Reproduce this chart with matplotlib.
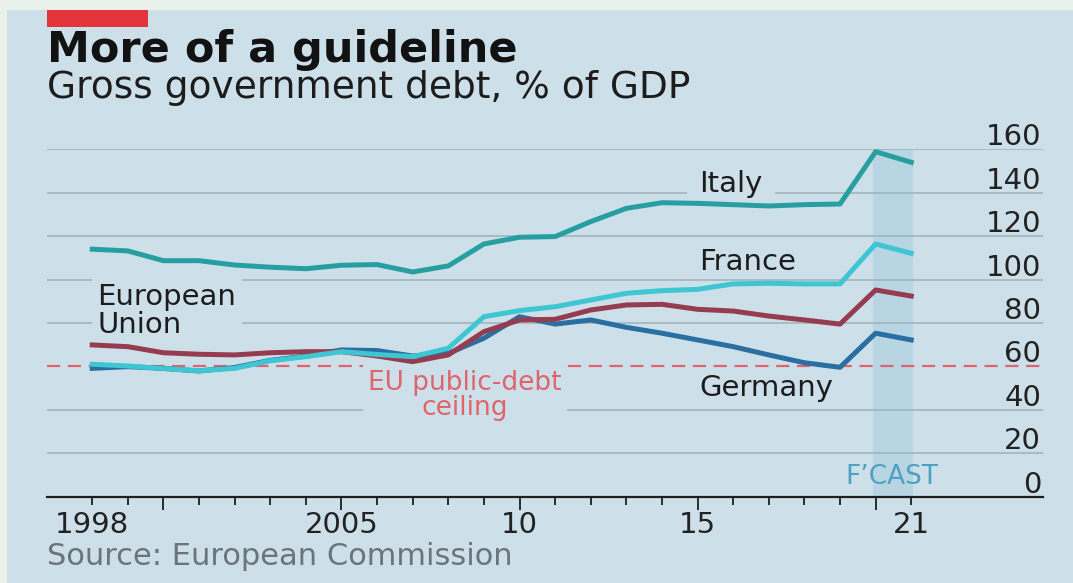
import matplotlib
matplotlib.use("Agg")
import matplotlib.pyplot as plt
from matplotlib.patches import Rectangle
from matplotlib.ticker import FixedLocator
from matplotlib.transforms import offset_copy

plt.rcParams['font.family'] = ['DejaVu Sans']
plt.rcParams['lines.scale_dashes'] = False

# ---------------- data ----------------
years = list(range(1998, 2022))
italy = [114.0, 113.2, 108.7, 108.7, 106.7, 105.7, 105.0, 106.6, 106.9, 103.5, 106.3, 116.4,
         119.5, 119.8, 126.7, 132.8, 135.4, 135.1, 134.5, 133.9, 134.5, 134.8, 158.9, 154.0]
france = [61.0, 60.2, 59.0, 58.0, 59.1, 62.6, 64.5, 66.8, 65.5, 64.5, 68.4, 82.9,
          85.7, 87.5, 90.6, 93.7, 94.9, 95.5, 98.0, 98.3, 98.0, 98.0, 116.4, 112.1]
eu = [69.9, 69.1, 66.3, 65.6, 65.3, 66.3, 66.8, 66.8, 64.8, 62.2, 65.3, 76.0,
      81.4, 81.7, 86.0, 88.3, 88.6, 86.3, 85.5, 83.2, 81.4, 79.5, 95.2, 92.4]
germany = [59.1, 59.9, 59.1, 57.9, 59.5, 62.8, 64.8, 67.6, 67.3, 64.8, 66.0, 73.0,
           82.9, 79.5, 81.4, 78.0, 75.3, 72.2, 69.1, 65.3, 61.7, 59.6, 75.3, 72.2]
ceiling = 60
forecast_years = [2020, 2021]
yticks = [0, 20, 40, 60, 80, 100, 120, 140, 160]
xtick_label_years = [1998, 2005, 2010, 2015, 2021]
xtick_labels = ["1998", "2005", "10", "15", "21"]
major_tick_years = [2000, 2005, 2010, 2015, 2020]

title = "More of a guideline"
subtitle = "Gross government debt, % of GDP"
source = "Source: European Commission"

# ---------------- style ----------------
BG = '#cde0ea'
OUTER = '#e8f1ea'
RED = '#e3333b'
C_ITALY = '#279fa1'
C_FRANCE = '#3ec6d2'
C_EU = '#963c50'
C_GER = '#2a6fa1'
C_CEIL = '#e0646b'
C_GRID = '#9fb1bb'
C_TEXT = '#1c1c1c'
C_FCAST_BG = '#b8d5e4'
C_FCAST_TX = '#4fa1c1'

W, H = 1073, 583
fig = plt.figure(figsize=(W / 100, H / 100), dpi=100, facecolor=OUTER)
fig.patches.append(Rectangle((7 / W, 0), 1 - 7 / W, 1 - 10 / H, transform=fig.transFigure,
                             facecolor=BG, edgecolor='none', zorder=-10))
fig.patches.append(Rectangle((47 / W, 1 - 27 / H), 101 / W, 17 / H, transform=fig.transFigure,
                             facecolor=RED, edgecolor='none', zorder=-5))

fig.text(47 / W, 1 - 62 / H, title, fontsize=31, fontweight='bold', color='#121212',
         ha='left', va='baseline')
fig.text(47 / W, 1 - 98 / H, subtitle, fontsize=27, color=C_TEXT, ha='left', va='baseline')
fig.text(47 / W, 1 - 565 / H, source, fontsize=22, color='#6b7479', ha='left', va='baseline')

ax = fig.add_axes([47 / W, 1 - 496.7 / H, 996 / W, 347.4 / H])
ax.set_zorder(1)
ax.set_facecolor('none')
ax.set_xlim(1996.73, 2024.7)
ax.set_ylim(0, 160)
for s in ['top', 'left', 'right']:
    ax.spines[s].set_visible(False)
ax.spines['bottom'].set_color('#1e1e1e')
ax.spines['bottom'].set_linewidth(1.6)
ax.spines['bottom'].set_zorder(6)

# ticks
ax.xaxis.set_major_locator(FixedLocator(major_tick_years))
ax.xaxis.set_minor_locator(FixedLocator([y for y in years if y not in major_tick_years]))
ax.tick_params(axis='x', which='major', length=9, width=1.3, color='#1e1e1e',
               labelbottom=False, direction='out')
ax.tick_params(axis='x', which='minor', length=6, width=1.3, color='#1e1e1e',
               labelbottom=False, direction='out')
ax.set_yticks(yticks)
ax.tick_params(axis='y', length=0, labelleft=False, labelright=False)

# gridlines
for v in yticks:
    if v not in (0, ceiling):
        ax.axhline(v, color=C_GRID, lw=1.1, zorder=1)
ax.axhline(ceiling, color=C_CEIL, lw=1.6, dashes=(9.5, 5.5), zorder=2)

# forecast shading
ax.axvspan(forecast_years[0] - 0.06, forecast_years[-1] + 0.04, color=C_FCAST_BG, lw=0, zorder=0.5)

# y tick labels
ytrans = offset_copy(ax.get_yaxis_transform(), fig=fig, y=4, units='dots')
for v in yticks:
    ax.text(0.998, v, str(v), transform=ytrans, ha='right', va='baseline',
            fontsize=21, color='#222222')

# x tick labels
xtrans = offset_copy(ax.get_xaxis_transform(), fig=fig, y=-36, units='dots')
for yr, lab in zip(xtick_label_years, xtick_labels):
    ax.text(yr, 0, lab, transform=xtrans, ha='center', va='baseline', fontsize=21, color='#222222')

# series
lw = 3.6
ax.plot(years, germany, color=C_GER, lw=lw, solid_joinstyle='round', zorder=3)
ax.plot(years, eu, color=C_EU, lw=lw, solid_joinstyle='round', zorder=3.1)
ax.plot(years, france, color=C_FRANCE, lw=lw, solid_joinstyle='round', zorder=3.2)
ax.plot(years, italy, color=C_ITALY, lw=lw, solid_joinstyle='round', zorder=3.3)

# labels (multi-line labels are anchored at the baseline of their last line)
ax.text(2015.05, 140.2, "Italy", fontsize=21, color=C_TEXT, ha='left', va='baseline',
        bbox=dict(facecolor=BG, edgecolor='none', pad=9), zorder=2.5)
ax.text(2015.05, 104.3, "France", fontsize=21, color=C_TEXT, ha='left', va='baseline', zorder=2.5)
ax.text(1998.15, 75.4, "European\nUnion", fontsize=21, color=C_TEXT, ha='left', va='baseline',
        linespacing=1.0, bbox=dict(facecolor=BG, edgecolor='none', pad=4), zorder=2.5)
ax.text(2015.05, 46.5, "Germany", fontsize=21, color=C_TEXT, ha='left', va='baseline', zorder=2.5)
ax.text(2008.47, 37.7, "EU public-debt\nceiling", fontsize=19, color=C_CEIL, ha='center',
        va='baseline', linespacing=0.95, bbox=dict(facecolor=BG, edgecolor='none', pad=4), zorder=2.5)
ax.text(2020.45, 5.9, "F\u2019CAST", fontsize=19, color=C_FCAST_TX, ha='center', va='baseline', zorder=4)

fig.savefig("out.png", dpi=100, facecolor=fig.get_facecolor())
